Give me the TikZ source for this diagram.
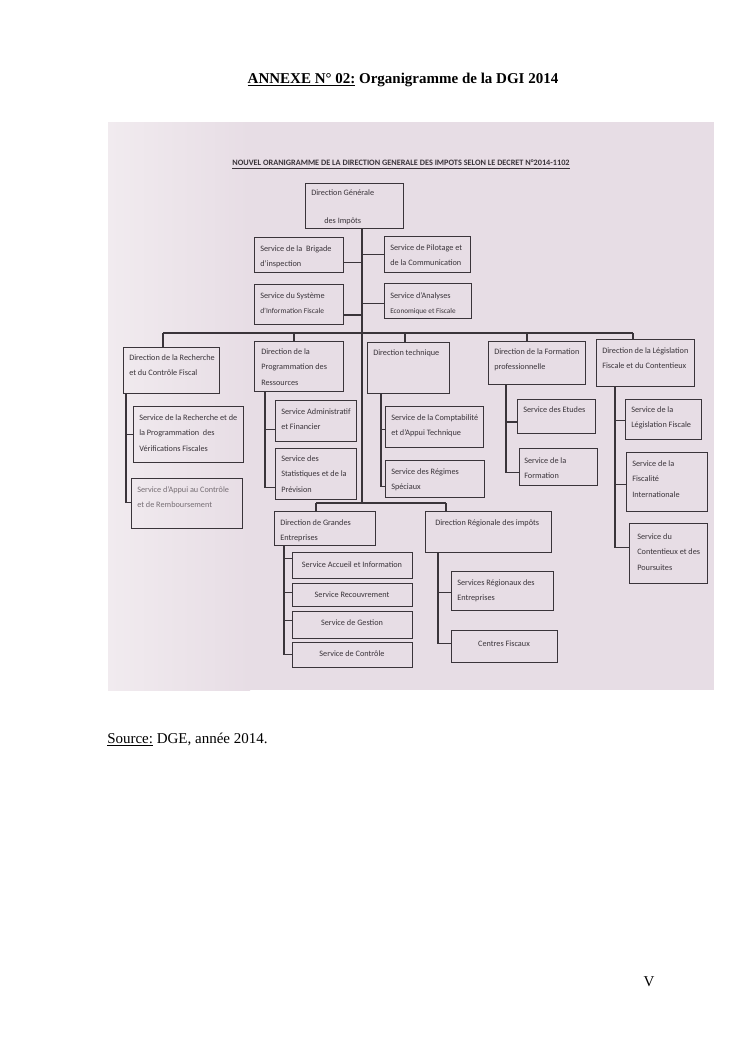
\documentclass[tikz,border=0pt]{standalone}
\usepackage{fontspec}
\setmainfont{Liberation Serif}
\newfontfamily\chartfont{Carlito}
\usetikzlibrary{calc}
\definecolor{photobg}{RGB}{231,221,229}
\definecolor{photolight}{RGB}{241,235,239}
\definecolor{ink}{RGB}{58,52,58}
\definecolor{fadeink}{RGB}{118,110,116}
\tikzset{
  box/.style={draw=ink, line width=1pt, anchor=north west, inner sep=0pt},
  txt/.style={font=\chartfont\fontsize{6.6}{12.4}\selectfont, text=ink, align=left, anchor=north west, inner sep=0pt, yshift=0.5pt},
  link/.style={draw=ink, line width=1pt},
  pagetext/.style={font=\fontsize{12}{14}\selectfont, inner sep=0pt},
}
% name, x1, y1, x2, y2, dx, dy, text options, text
\newcommand\orgbox[9]{%
  \node[box, minimum width={(#4-#2)*0.8pt}, minimum height={(#5-#3)*0.8pt}] (#1) at (#2,#3) {};
  \node[txt,#8] (#1-t) at ($(#1.north west)+(#6,#7)$) {#9};
}
% spine coordinate, parent, child, fraction down the child's left side
\newcommand\subtick[4]{%
  \draw[link] (#1 |- #2.south) |- ($(#3.north west)!#4!(#3.south west)$);
}
\begin{document}
\begin{tikzpicture}[x=0.8pt, y=-0.8pt]
\useasboundingbox (0,0) rectangle (744,1053);
\fill[white] (0,0) rectangle (744,1053);

% page texts
\node[pagetext, anchor=base, font=\fontsize{12}{14}\selectfont\bfseries] (title) at (403,83)
  {\underline{ANNEXE N° 02:} Organigramme de la DGI 2014};
\node[pagetext, anchor=base west] (src) at (107,743) {\underline{Source:} DGE, année 2014.};
\node[pagetext, anchor=base] (pg) at (649,986) {V};

% photo background
\fill[photobg] (108,122) rectangle (714,690);
\shade[left color=photolight, right color=photobg] (108,122) rectangle (250,690);

% header
\node[txt, anchor=center, yshift=0pt, font=\chartfont\bfseries\fontsize{6.6}{8}\selectfont] (hdr) at (401,165)
  {\underline{NOUVEL ORANIGRAMME DE LA DIRECTION GENERALE DES IMPOTS SELON LE DECRET N°2014-1102}};

% top
\orgbox{dg}{305}{183}{403}{228}{6}{7}{}{Direction Générale\\[10pt]\hspace*{10.4pt}des Impôts}
\orgbox{brig}{254}{237}{343}{272}{6}{9}{}{Service de la\ \ Brigade\\d’inspection}
\orgbox{pil}{384}{236}{470}{272}{6}{9}{}{Service de Pilotage et\\de la Communication}
\orgbox{sys}{254}{284}{343}{324}{6}{9}{}{Service du Système\\{\fontsize{6}{12}\selectfont d’Information Fiscale}}
\orgbox{ana}{384}{283}{471}{318}{6}{10}{}{Service d’Analyses\\{\fontsize{5.8}{12}\selectfont Economique et Fiscale}}

% directions
\orgbox{rc}{123}{347}{219}{393}{6}{8}{}{Direction de la Recherche\\et du Contrôle Fiscal}
\orgbox{dp}{254}{341}{343}{391}{7}{8}{}{Direction de la\\Programmation des\\Ressources}
\orgbox{dt}{367}{342}{449}{393}{6}{8}{}{Direction technique}
\orgbox{df}{488}{341}{585}{384}{6}{8}{}{Direction de la Formation\\professionnelle}
\orgbox{dl}{596}{339}{694}{386}{6}{9}{}{Direction de la Législation\\Fiscale et du Contentieux}

% services
\orgbox{rs1}{133}{406}{243}{462}{6}{9}{}{Service de la Recherche et de\\la Programmation\ \ des\\Vérifications Fiscales}
\orgbox{rs2}{131}{478}{242}{528}{6}{9}{text=fadeink}{Service d’Appui au Contrôle\\et de Remboursement}
\orgbox{ps1}{275}{400}{356}{441}{6}{9}{}{Service Administratif\\et Financier}
\orgbox{ps2}{275}{448}{356}{499}{6}{8}{}{Service des\\Statistiques et de la\\Prévision}
\orgbox{ts1}{385}{406}{483}{447}{6}{9}{}{Service de la Comptabilité\\et d’Appui Technique}
\orgbox{ts2}{385}{460}{484}{497}{6}{9}{}{Service des Régimes\\Spéciaux}
\orgbox{fs1}{517}{399}{595}{433}{6}{8}{}{Service des Etudes}
\orgbox{fs2}{519}{448}{597}{485}{5}{10}{}{Service de la\\Formation}
\orgbox{ls1}{625}{399}{701}{439}{6}{8}{}{Service de la\\Législation Fiscale}
\orgbox{ls2}{626}{452}{707}{511}{6}{9}{}{Service de la\\Fiscalité\\Internationale}
\orgbox{ls3}{629}{523}{707}{583}{8}{11}{}{Service du\\Contentieux et des\\Poursuites}

% lower directions
\orgbox{dge}{274}{511}{375}{545}{6}{9}{}{Direction de Grandes\\Entreprises}
\orgbox{dr}{425}{511}{551}{552}{10}{9}{}{Direction Régionale des impôts}
\orgbox{ge1}{292}{552}{412}{578}{60}{13}{anchor=center}{Service Accueil et Information}
\orgbox{ge2}{292}{583}{412}{606}{60}{12}{anchor=center}{Service Recouvrement}
\orgbox{ge3}{292}{611}{412}{638}{60}{12}{anchor=center}{Service de Gestion}
\orgbox{ge4}{292}{642}{412}{667}{60}{12}{anchor=center}{Service de Contrôle}
\orgbox{rr1}{451}{571}{553}{610}{6}{9}{}{Services Régionaux des\\Entreprises}
\orgbox{rr2}{451}{630}{557}{662}{53}{14}{anchor=center}{Centres Fiscaux}

% trunk and main bars
\coordinate (t0) at (362,228);
\coordinate (t1) at (362,503);
\draw[link] (t0) -- (t1);
\foreach \b/\f in {brig/0.71, sys/0.75}{
  \path ($(\b.north east)!\f!(\b.south east)$) coordinate (\b-c);
  \draw[link] (\b-c) -- (\b-c -| t0);
}
\foreach \b/\f in {pil/0.5, ana/0.57}{
  \path ($(\b.north west)!\f!(\b.south west)$) coordinate (\b-c);
  \draw[link] (\b-c) -- (\b-c -| t0);
}
\coordinate (xA) at (163,333);
\coordinate (xB) at (294,333);
\coordinate (xC) at (405,333);
\coordinate (xD) at (527,333);
\coordinate (xE) at (633,333);
\draw[link] (xA) -- (xE);
\draw[link] (xA) -- (xA |- rc.north);
\draw[link] (xB) -- (xB |- dp.north);
\draw[link] (xC) -- (xC |- dt.north);
\draw[link] (xD) -- (xD |- df.north);
\draw[link] (xE) -- (xE |- dl.north);

\coordinate (lb1) at (316,503);
\coordinate (lb2) at (446,503);
\draw[link] (lb1) -- (lb2);
\draw[link] (lb1) -- (lb1 |- dge.north);
\draw[link] (lb2) -- (lb2 |- dr.north);

% spines
\coordinate (sRC) at (126,0);
\coordinate (sDP) at (265,0);
\coordinate (sDT) at (381,0);
\coordinate (sDF) at (506,0);
\coordinate (sDL) at (615,0);
\coordinate (sGE) at (284,0);
\coordinate (sDR) at (438,0);
\subtick{sRC}{rc}{rs1}{0.5}
\subtick{sRC}{rc}{rs2}{0.48}
\subtick{sDP}{dp}{ps1}{0.7}
\subtick{sDP}{dp}{ps2}{0.75}
\subtick{sDT}{dt}{ts1}{0.56}
\subtick{sDT}{dt}{ts2}{0.7}
\subtick{sDF}{df}{fs1}{0.65}
\subtick{sDF}{df}{fs2}{0.65}
\subtick{sDL}{dl}{ls1}{0.52}
\subtick{sDL}{dl}{ls2}{0.54}
\subtick{sDL}{dl}{ls3}{0.4}
\subtick{sGE}{dge}{ge1}{0.23}
\subtick{sGE}{dge}{ge2}{0.4}
\subtick{sGE}{dge}{ge3}{0.33}
\subtick{sGE}{dge}{ge4}{0.48}
\subtick{sDR}{dr}{rr1}{0.54}
\subtick{sDR}{dr}{rr2}{0.4}
\end{tikzpicture}
\end{document}
